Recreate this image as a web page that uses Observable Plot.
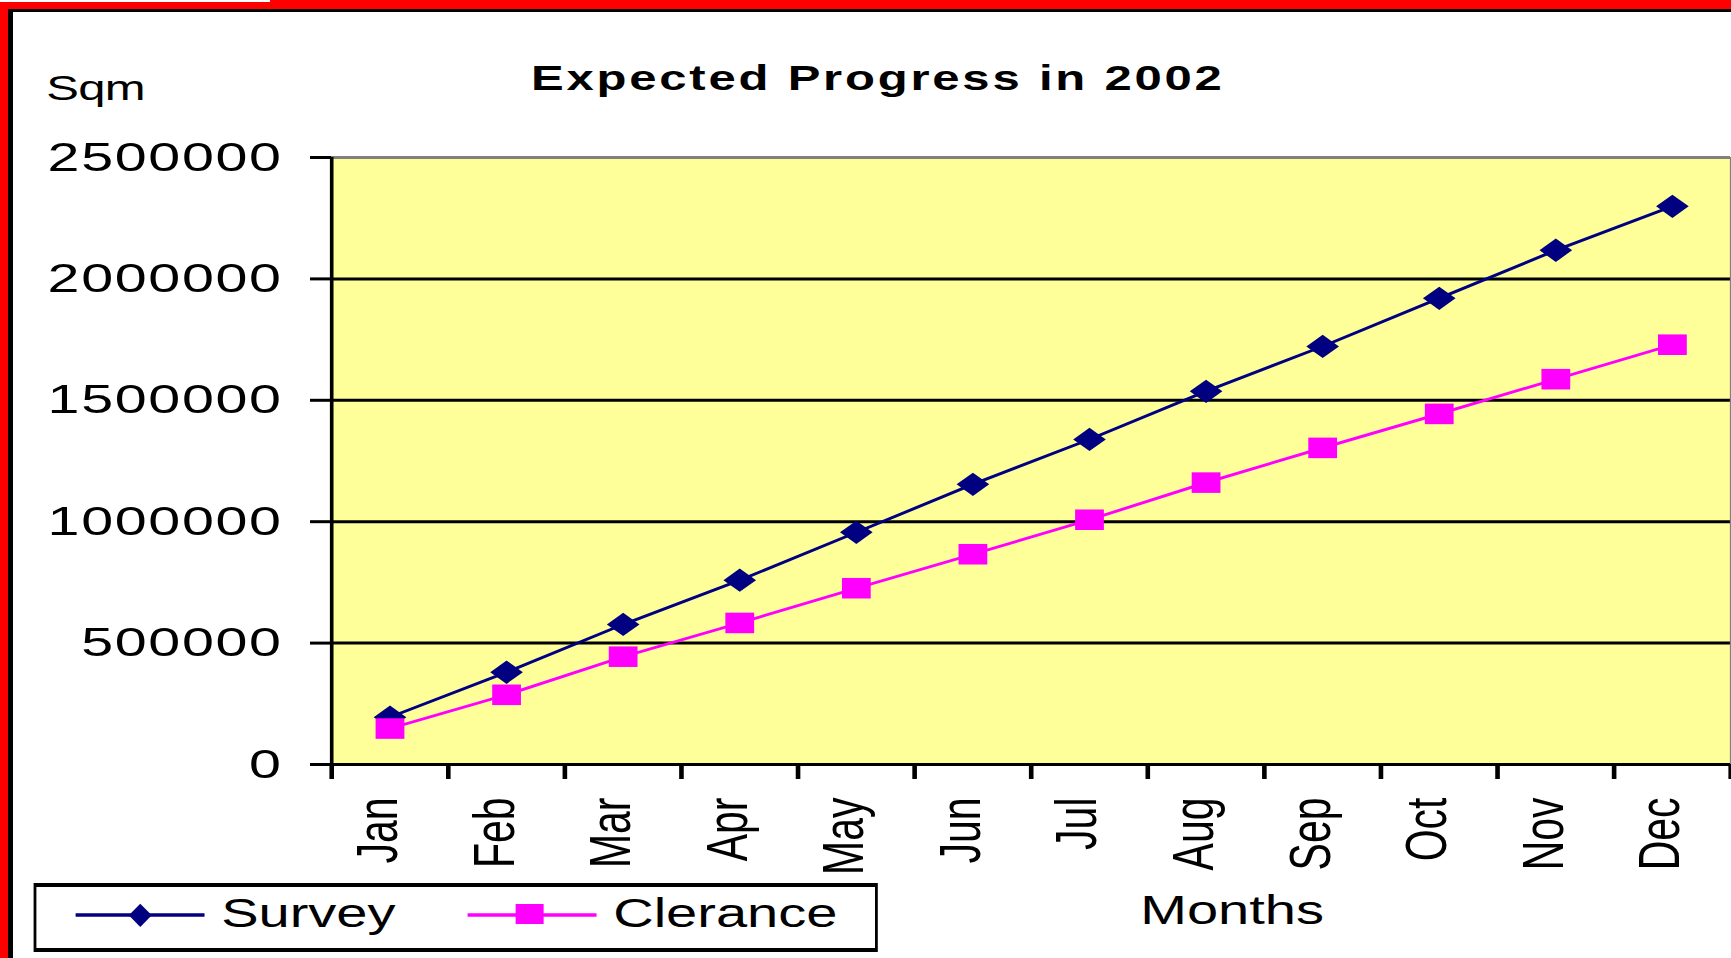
<!DOCTYPE html>
<html>
<head>
<meta charset="utf-8">
<script src="https://cdn.jsdelivr.net/npm/d3@7"></script>
<script src="https://cdn.jsdelivr.net/npm/@observablehq/plot@0.6"></script>
<style>
  html, body { margin: 0; padding: 0; background: #fff; overflow: hidden; }
  body { width: 1731px; height: 958px; position: relative; font-family: "Liberation Sans", Arial, sans-serif; }
  #wrap { position: absolute; left: 0; top: 0; width: 1236.43px; height: 958px; transform: scaleX(1.4); transform-origin: 0 0; }
  #wrap svg { position: absolute; left: 0; top: 0; }
  #wrap g[aria-label="y-axis tick label"] { letter-spacing: 1.2px; }
  .t { position: absolute; white-space: nowrap; line-height: 1; color: #000; }
  .bar { position: absolute; }
</style>
</head>
<body>
<div id="wrap"></div>
<div class="bar" style="left:0;top:0;width:8px;height:958px;background:#ff0000"></div>
<div class="bar" style="left:0;top:0;width:1731px;height:9px;background:#ff0000"></div>
<div class="bar" style="left:8px;top:9px;width:4.5px;height:949px;background:#000"></div>
<div class="bar" style="left:8px;top:9px;width:1723px;height:3px;background:#000"></div>
<div class="bar" style="left:0;top:0;width:270px;height:2px;background:#fff"></div>
<script>
// ---- data ----
const months = ["Jan", "Feb", "Mar", "Apr", "May", "Jun", "Jul", "Aug", "Sep", "Oct", "Nov", "Dec"];
const survey = [195000, 380000, 577000, 759000, 956000, 1154000, 1339000, 1537000, 1722000, 1920000, 2118000, 2299000];
const clearance = [148000, 287000, 444000, 583000, 726000, 866000, 1008000, 1161000, 1304000, 1444000, 1587000, 1729000];
const yTicks = [0, 500000, 1000000, 1500000, 2000000, 2500000];
const seriesNames = ["Survey", "Clerance"];
const seriesColors = ["#000080", "#ff00ff"];
const titleText = "Expected Progress in 2002";
const yLabelText = "Sqm";
const xLabelText = "Months";

const surveyRows = months.map((m, i) => ({month: m, pos: i + 0.5, value: survey[i]}));
const clearanceRows = months.map((m, i) => ({month: m, pos: i + 0.5, value: clearance[i]}));

const K = 1.4;
const W = 1731 / K;

const chart = Plot.plot({
  width: W,
  height: 958,
  marginLeft: 236.43,
  marginRight: 0.7,
  marginTop: 157,
  marginBottom: 194,
  x: {domain: [0, months.length], axis: null},
  y: {domain: [0, yTicks[yTicks.length - 1]], axis: null},
  style: {fontFamily: '"Liberation Sans", Arial, sans-serif', fontSize: "41px", color: "#000", background: "transparent", overflow: "visible"},
  marks: [
    Plot.frame({fill: "#ffff99", stroke: null}),
    Plot.ruleY(yTicks.slice(1, -1), {stroke: "#000", strokeWidth: 3}),
    Plot.ruleY(yTicks.slice(-1), {stroke: "#808080", strokeWidth: 3}),
    Plot.ruleX([months.length], {stroke: "#808080", strokeWidth: 1.2}),
    Plot.ruleY([0], {stroke: "#000", strokeWidth: 3}),
    Plot.ruleX([0], {stroke: "#000", strokeWidth: 2.6}),
    Plot.axisY({ticks: yTicks, tickSize: 15, tickPadding: 20, tickFormat: d => String(d), strokeWidth: 3, fontSize: 41, label: null}),
    Plot.axisX({ticks: d3.range(months.length + 1), tickSize: 15, tickFormat: () => "", strokeWidth: 3.3, label: null}),
    Plot.text(months, {x: (d, i) => i + 0.5, text: d => d, frameAnchor: "bottom", rotate: -90, textAnchor: "end", dy: 33, dx: 5, fontSize: 41, fill: "#000"}),
    Plot.line(surveyRows, {x: "pos", y: "value", stroke: seriesColors[0], strokeWidth: 2.8}),
    Plot.dot(surveyRows, {x: "pos", y: "value", symbol: "diamond2", r: 10.5, fill: seriesColors[0], stroke: null}),
    Plot.line(clearanceRows, {x: "pos", y: "value", stroke: seriesColors[1], strokeWidth: 2.8}),
    Plot.dot(clearanceRows, {x: "pos", y: "value", symbol: "square", r: 11.6, fill: seriesColors[1], stroke: null})
  ]
});

const wrap = document.getElementById("wrap");
wrap.appendChild(chart);

function addText(txt, left, top, size, extra) {
  const d = document.createElement("div");
  d.className = "t";
  d.textContent = txt;
  d.style.left = left + "px";
  d.style.top = top + "px";
  d.style.fontSize = size + "px";
  if (extra) Object.assign(d.style, extra);
  wrap.appendChild(d);
  return d;
}

// title and axis titles
addText(titleText, 627, 60.4, 35, {fontWeight: "bold", letterSpacing: "2px", transform: "translateX(-50%)"});
addText(yLabelText, 33, 70.4, 35, {letterSpacing: "-0.5px"});
addText(xLabelText, 814.5, 890.1, 40);

// legend box
const box = document.createElement("div");
Object.assign(box.style, {position: "absolute", left: "23.8px", top: "883.3px", width: "603.6px", height: "68.4px",
  boxSizing: "border-box", border: "solid #000", borderWidth: "4px 2.86px", background: "#fff"});
wrap.appendChild(box);

function swatch(left, color, shape) {
  const ns = "http://www.w3.org/2000/svg";
  const s = document.createElementNS(ns, "svg");
  s.setAttribute("width", 92.1);
  s.setAttribute("height", 25);
  Object.assign(s.style, {position: "absolute", left: left + "px", top: "903px", overflow: "visible"});
  const ln = document.createElementNS(ns, "line");
  ln.setAttribute("x1", 0); ln.setAttribute("x2", 92.1);
  ln.setAttribute("y1", 12); ln.setAttribute("y2", 12);
  ln.setAttribute("stroke", color); ln.setAttribute("stroke-width", 3.3);
  s.appendChild(ln);
  if (shape === "diamond") {
    const p = document.createElementNS(ns, "polygon");
    const cx = 46.2, cy = 12.3, hw = 8.2, hh = 11.6;
    p.setAttribute("points", `${cx},${cy - hh} ${cx + hw},${cy} ${cx},${cy + hh} ${cx - hw},${cy}`);
    p.setAttribute("fill", color);
    s.appendChild(p);
  } else {
    const r = document.createElementNS(ns, "rect");
    r.setAttribute("x", 44.3 - 10); r.setAttribute("y", 1);
    r.setAttribute("width", 20); r.setAttribute("height", 20);
    r.setAttribute("fill", color);
    s.appendChild(r);
  }
  wrap.appendChild(s);
}
swatch(54.3, seriesColors[0], "diamond");
swatch(334.3, seriesColors[1], "square");
addText(seriesNames[0], 158, 893.4, 40);
addText(seriesNames[1], 438, 893.4, 40);
</script>
</body>
</html>
